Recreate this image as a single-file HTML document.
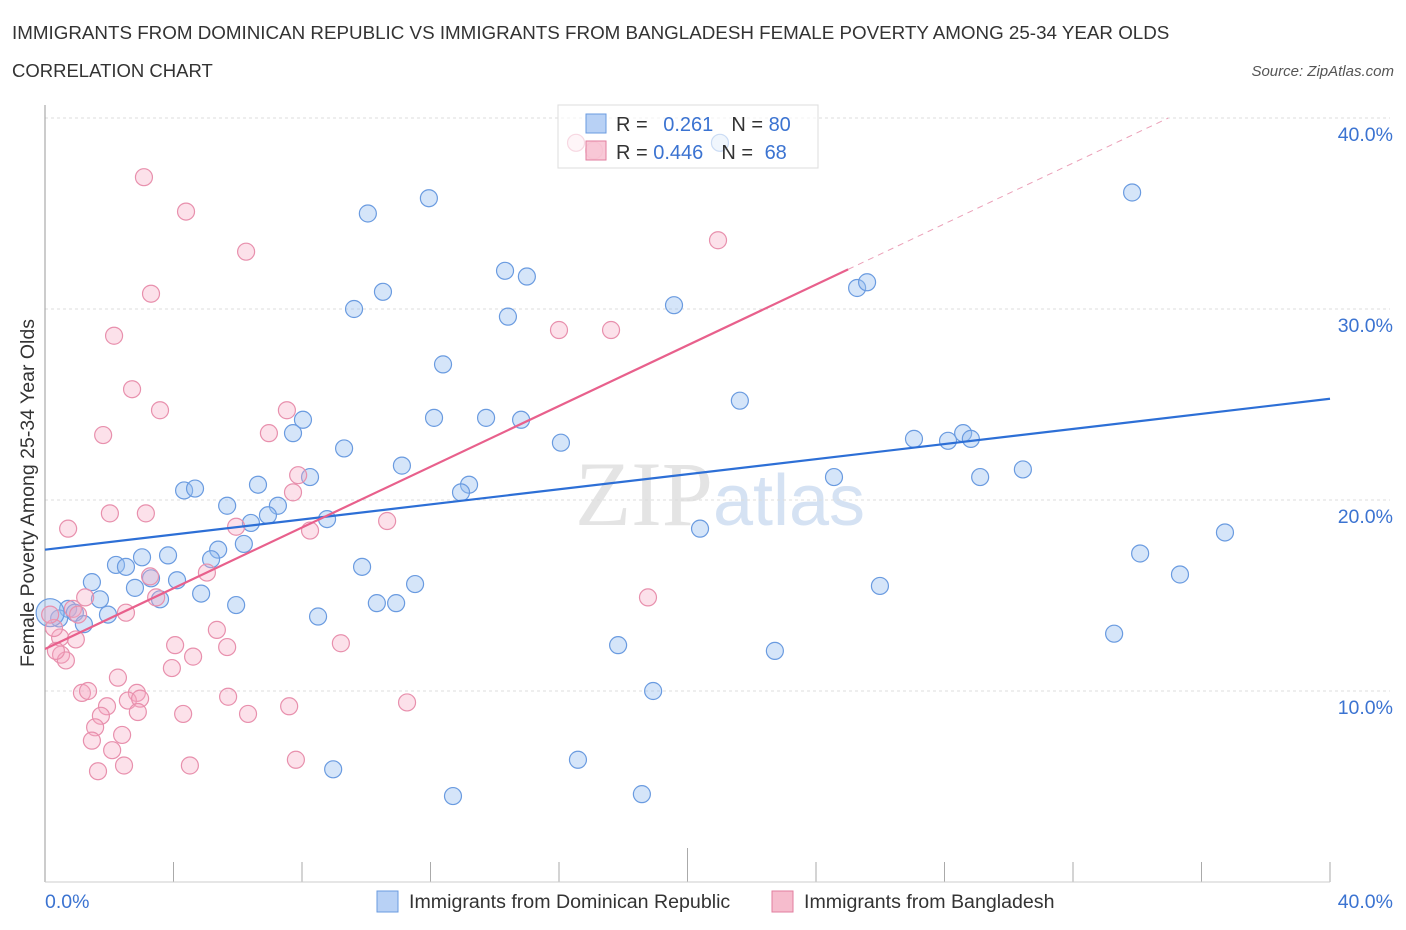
<!DOCTYPE html>
<html><head><meta charset="utf-8"><style>
body{margin:0;background:#fff;font-family:"Liberation Sans",sans-serif}
svg{display:block}
</style></head><body>
<svg id="c" width="1406" height="930" font-family="Liberation Sans, sans-serif">
<text x="12" y="39" font-size="18.8" fill="#333">IMMIGRANTS FROM DOMINICAN REPUBLIC VS IMMIGRANTS FROM BANGLADESH FEMALE POVERTY AMONG 25-34 YEAR OLDS</text>
<text x="12" y="77" font-size="18.5" fill="#333">CORRELATION CHART</text>
<text x="1394" y="76" font-size="15" fill="#555" font-style="italic" text-anchor="end">Source: ZipAtlas.com</text>
<text x="720" y="525" font-size="92" fill="#e4e4e4" text-anchor="middle" font-family="Liberation Serif, serif">ZIP<tspan fill="#d5e2f3" font-family="Liberation Sans, sans-serif" font-size="72">atlas</tspan></text>
<g id="grid"></g>
<line x1="45" y1="105" x2="45" y2="882" stroke="#999"/>
<line x1="45" y1="882" x2="1330" y2="882" stroke="#ccc"/>
<text transform="translate(34,493) rotate(-90)" font-size="19.5" fill="#333" text-anchor="middle">Female Poverty Among 25-34 Year Olds</text>
<text x="45" y="908" font-size="19.5" fill="#3b73d1">0.0%</text>
<text x="1393" y="908" font-size="19.5" fill="#3b73d1" text-anchor="end">40.0%</text>
<g id="pts"></g>
<g id="lines"></g>
<g>
<rect x="558" y="105" width="260" height="63" fill="rgba(255,255,255,0.65)" stroke="#ddd"/>
<rect x="586" y="114" width="20" height="19" fill="#b8d1f5" stroke="#6a9be0"/>
<rect x="586" y="141" width="20" height="19" fill="rgba(246,188,205,0.8)" stroke="#e27e9f"/>
<text x="616" y="131" font-size="20" fill="#333">R = <tspan fill="#3b73d1" dx="10">0.261</tspan><tspan dx="18">N = </tspan><tspan fill="#3b73d1">80</tspan></text>
<text x="616" y="159" font-size="20" fill="#333">R = <tspan fill="#3b73d1">0.446</tspan><tspan dx="18">N = </tspan><tspan fill="#3b73d1" dx="6">68</tspan></text>
</g>
<g>
<rect x="377" y="891" width="21" height="21" fill="#b8d1f5" stroke="#6a9be0"/>
<text x="409" y="908" font-size="19.6" fill="#333">Immigrants from Dominican Republic</text>
<rect x="772" y="891" width="21" height="21" fill="#f6bccd" stroke="#e27e9f"/>
<text x="804" y="908" font-size="19.6" fill="#333">Immigrants from Bangladesh</text>
</g>
</svg>
<script>
const yTicks=[10,20,30,40];
const yTickLabels=["10.0%","20.0%","30.0%","40.0%"];
const xTicks=[0,4,8,12,16,20,24,28,32,36,40];
const blueX=[11.95,10.05,33.84,21.01,14.32,15.0,10.52,25.28,25.59,9.62,14.41,19.58,12.39,21.63,12.11,13.73,14.82,8.03,7.72,16.06,9.31,27.05,28.11,28.58,28.82,11.11,8.25,30.44,29.11,24.56,4.33,4.67,6.63,13.2,12.95,5.67,7.25,6.94,6.41,8.78,20.39,36.73,6.19,5.39,5.17,3.83,3.02,2.21,2.52,9.87,34.09,35.33,3.30,4.11,1.46,2.80,11.52,25.99,4.86,3.58,1.71,5.95,10.33,10.93,1.96,8.5,0.72,0.93,0.44,1.21,33.28,17.84,22.72,18.93,8.97,16.59,18.58,12.7,0.16];
const blueY=[35.8,35.0,36.1,38.7,32.0,31.7,30.9,31.1,31.4,30.0,29.6,30.2,27.1,25.2,24.3,24.3,24.2,24.2,23.5,23.0,22.7,23.2,23.1,23.5,23.2,21.8,21.2,21.6,21.2,21.2,20.5,20.6,20.8,20.8,20.4,19.7,19.7,19.2,18.8,19.0,18.5,18.3,17.7,17.4,16.9,17.1,17.0,16.6,16.5,16.5,17.2,16.1,15.9,15.8,15.7,15.4,15.6,15.5,15.1,14.8,14.8,14.5,14.6,14.6,14.0,13.9,14.3,14.1,13.8,13.5,13.0,12.4,12.1,10.0,5.9,6.4,4.6,4.5,14.1];
const pinkX=[3.08,4.39,6.26,3.30,20.95,2.15,2.71,3.58,1.81,7.53,6.97,16.0,17.62,16.53,17.09,7.88,7.72,0.72,2.02,3.14,5.95,8.25,10.65,3.27,5.04,3.46,2.52,1.25,0.87,1.03,18.77,5.35,4.05,5.67,9.21,0.47,0.28,0.96,4.61,0.5,0.65,0.34,3.95,2.27,1.15,1.34,2.86,2.58,2.96,5.70,11.27,1.93,4.30,6.32,7.60,2.89,1.74,1.56,1.46,2.40,2.09,2.46,1.65,4.51,7.81,0.16];
const pinkY=[36.9,35.1,33.0,30.8,33.6,28.6,25.8,24.7,23.4,24.7,23.5,28.9,28.9,38.7,38.3,21.3,20.4,18.5,19.3,19.3,18.6,18.4,18.9,16.0,16.2,14.9,14.1,14.9,14.3,14.0,14.9,13.2,12.4,12.3,12.5,12.8,13.3,12.7,11.8,11.9,11.6,12.1,11.2,10.7,9.9,10.0,9.9,9.5,9.6,9.7,9.4,9.2,8.8,8.8,9.2,8.9,8.7,8.1,7.4,7.7,6.9,6.1,5.8,6.1,6.4,14.0];
const blueTrend=[17.4,25.3];
const pinkTrend=[12.2,44.0];
const pinkSolidEnd=25;

const NS="http://www.w3.org/2000/svg";
const sx=v=>45+v*32.125, sy=v=>882-v*19.1;
function mk(t,a,p){const e=document.createElementNS(NS,t);for(const k in a)e.setAttribute(k,a[k]);p.appendChild(e);return e;}
const grid=document.getElementById('grid');
yTicks.forEach((v,i)=>{
 const l=mk('line',{x1:45,x2:1390,y1:sy(v),y2:sy(v),stroke:'#ddd','stroke-dasharray':'3,3'},grid);
 
 
 const t=mk('text',{x:1393,y:sy(v)+23,'font-size':19.5,fill:'#3b73d1','text-anchor':'end'},grid);
 t.textContent=yTickLabels[i];
 
 
});
xTicks.forEach((v,i)=>{
 const l=mk('line',{x1:sx(v),x2:sx(v),y1:882,y2:i==5?848:862,stroke:'#aaa'},grid);
 
 
});
const pts=document.getElementById('pts');
blueX.forEach((x,i)=>{
 const c=mk('circle',{cx:sx(x),cy:sy(blueY[i]),r:i==blueX.length-1?14:8.5,fill:'rgba(150,190,240,0.4)',stroke:'#6a9be0','stroke-width':1.2},pts);
 
 
});
pinkX.forEach((x,i)=>{
 const c=mk('circle',{cx:sx(x),cy:sy(pinkY[i]),r:8.5,fill:'rgba(245,170,195,0.35)',stroke:'#e890ad','stroke-width':1.2},pts);
 
 
});
const lines=document.getElementById('lines');
const bl=mk('line',{x1:sx(0),y1:sy(blueTrend[0]),x2:sx(40),y2:sy(blueTrend[1]),stroke:'#2d6fd6','stroke-width':2.2},lines);


const pf=x=>pinkTrend[0]+(pinkTrend[1]-pinkTrend[0])*x/40;
const pl=mk('line',{x1:sx(0),y1:sy(pf(0)),x2:sx(pinkSolidEnd),y2:sy(pf(pinkSolidEnd)),stroke:'#e8608c','stroke-width':2.2},lines);


const xe=(40-pinkTrend[0])*40/(pinkTrend[1]-pinkTrend[0]);
const pd=mk('line',{x1:sx(pinkSolidEnd),y1:sy(pf(pinkSolidEnd)),x2:sx(xe),y2:sy(40),stroke:'#eba0b8','stroke-width':1,'stroke-dasharray':'6,5'},lines);


</script>
</body></html>
